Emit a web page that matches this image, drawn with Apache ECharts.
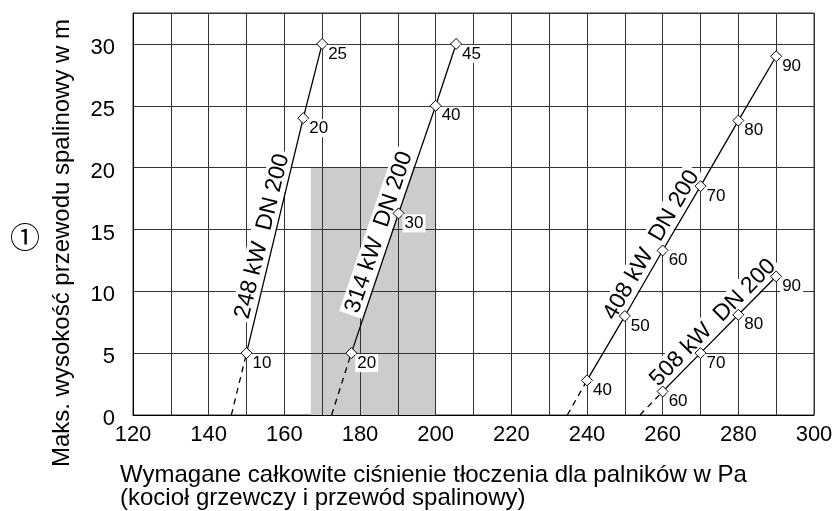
<!DOCTYPE html>
<html>
<head>
<meta charset="utf-8">
<script src="https://cdn.jsdelivr.net/npm/echarts@6/dist/echarts.min.js"></script>
<style>
  html, body { margin: 0; padding: 0; background: #fff; }
  #chart { width: 840px; height: 511px; }
</style>
</head>
<body>
<div id="chart"></div>
<script>
// Boiler output curves: required draught pressure (Pa) vs. max flue height (m)
const curveNames = ['248 kW  DN 200', '314 kW  DN 200', '408 kW  DN 200', '508 kW  DN 200'];

const pressure248 = [150, 165, 170];
const height248   = [5, 24, 30];
const tags248     = ['10', '20', '25'];

const pressure314 = [177.7, 190.2, 200, 205.4];
const height314   = [5, 16.3, 25, 30];
const tags314     = ['20', '30', '40', '45'];

const pressure408 = [240, 250, 260, 270, 280, 290];
const height408   = [2.8, 8, 13.3, 18.5, 23.8, 29];
const tags408     = ['40', '50', '60', '70', '80', '90'];

const pressure508 = [260, 270, 280, 290];
const height508   = [1.9, 5, 8.1, 11.2];
const tags508     = ['60', '70', '80', '90'];

// pressure where each dashed run-in leaves the 0 m line
const runInStart = [146, 172.5, 234.8, 254];

// shaded operating band
const bandPressure = [167, 200];
const bandHeight   = [0, 20];

const xTitle = 'Wymagane całkowite ciśnienie tłoczenia dla palników w Pa\n(kocioł grzewczy i przewód spalinowy)';
const yTitle = 'Maks. wysokość przewodu spalinowy w m';

const FONT = '"Liberation Sans", Arial, sans-serif';
const GRID_COLOR = '#333';

const curves = [
  { name: curveNames[0], x: pressure248, y: height248, tags: tags248, shift: 30 },
  { name: curveNames[1], x: pressure314, y: height314, tags: tags314, shift: 36 },
  { name: curveNames[2], x: pressure408, y: height408, tags: tags408, shift: 62 },
  { name: curveNames[3], x: pressure508, y: height508, tags: tags508, shift: -3 }
];

const series = [];

// shaded band, kept below the grid lines
series.push({
  type: 'line',
  data: [],
  silent: true,
  markArea: {
    silent: true,
    itemStyle: { color: '#cccccc' },
    data: [[{ coord: [bandPressure[0], bandHeight[0]] }, { coord: [bandPressure[1], bandHeight[1]] }]]
  }
});

curves.forEach(function (c, i) {
  const pts = c.x.map(function (x, k) { return [x, c.y[k]]; });
  // dashed run-in from the axis to the first marker
  series.push({
    type: 'line',
    z: 4,
    silent: true,
    symbol: 'none',
    data: [[runInStart[i], 0], pts[0]],
    lineStyle: { color: '#000', width: 1.3, type: [6, 5] }
  });
  series.push({
    type: 'line',
    name: c.name,
    z: 5,
    silent: true,
    data: pts,
    symbol: 'diamond',
    symbolSize: 11,
    itemStyle: { color: '#fff', borderColor: '#000', borderWidth: 1 },
    lineStyle: { color: '#000', width: 1.3 },
    label: {
      show: true,
      position: 'right',
      distance: -2,
      offset: [0, 10],
      formatter: function (p) { return c.tags[p.dataIndex]; },
      fontSize: 17,
      fontFamily: FONT,
      color: '#000',
      backgroundColor: '#fff',
      padding: [1, 2, 0, 2]
    },
    // invisible guide along the curve that carries the rotated curve caption
    markLine: {
      silent: true,
      symbol: ['none', 'none'],
      lineStyle: { color: 'rgba(0,0,0,0)', width: 0, opacity: 1 },
      label: {
        show: true,
        position: 'insideStartTop',
        distance: [c.shift, 1],
        formatter: c.name,
        fontSize: 23,
        fontFamily: FONT,
        color: '#000',
        opacity: 1,
        backgroundColor: '#fff',
        padding: [1, 3, 0, 3]
      },
      emphasis: { disabled: true },
      data: [[{ coord: pts[0] }, { coord: pts[pts.length - 1] }]]
    }
  });
});

const chart = echarts.init(document.getElementById('chart'), null, { renderer: 'canvas' });
chart.setOption({
  animation: false,
  backgroundColor: '#fff',
  textStyle: { fontFamily: FONT },
  grid: {
    left: 133, right: 26, top: 13, bottom: 96,
    show: true, borderColor: GRID_COLOR, borderWidth: 1, backgroundColor: 'transparent'
  },
  title: {
    text: xTitle,
    left: 115,
    top: 459,
    textStyle: { fontSize: 24, fontWeight: 'normal', lineHeight: 23, color: '#000', fontFamily: FONT }
  },
  xAxis: {
    type: 'value',
    z: 2,
    min: 120, max: 300, interval: 10,
    axisLine: { show: true, lineStyle: { color: '#000', width: 1 } },
    axisTick: { show: false },
    splitLine: { show: true, lineStyle: { color: GRID_COLOR, width: 1 } },
    axisLabel: {
      margin: 9,
      fontSize: 22,
      color: '#000',
      fontFamily: FONT,
      formatter: function (v) { return v % 20 === 0 ? String(v) : ''; }
    }
  },
  yAxis: {
    type: 'value',
    z: 2,
    min: 0, max: 32.5, interval: 5,
    axisLine: { show: true, lineStyle: { color: '#000', width: 1 } },
    axisTick: { show: false },
    splitLine: { show: true, lineStyle: { color: GRID_COLOR, width: 1 } },
    axisLabel: {
      margin: 18,
      fontSize: 22,
      color: '#000',
      fontFamily: FONT,
      verticalAlign: 'top',
      lineHeight: 8,
      formatter: function (v) { return v % 5 === 0 ? String(v) : ''; }
    }
  },
  graphic: [
    {
      type: 'text',
      x: 62, y: 243,
      rotation: Math.PI / 2,
      style: { text: yTitle, fontSize: 24, fontFamily: FONT, fill: '#000', align: 'center', verticalAlign: 'middle' }
    },
    {
      type: 'text',
      x: 25, y: 237,
      style: { text: '①', fontSize: 30, fontFamily: '"Noto Sans CJK SC", "DejaVu Sans", sans-serif', fill: '#000', align: 'center', verticalAlign: 'middle' }
    }
  ],
  series: series
});
</script>
</body>
</html>
